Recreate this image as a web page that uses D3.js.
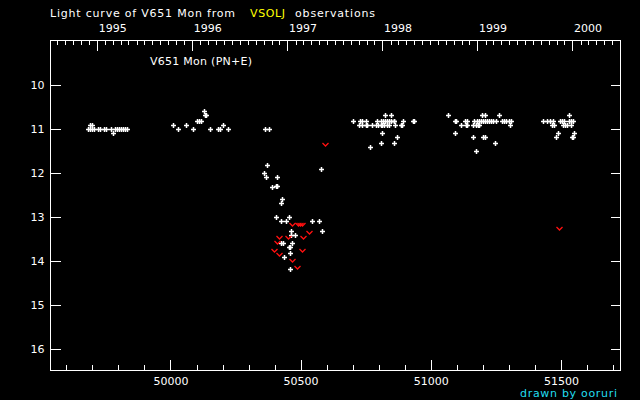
<!DOCTYPE html>
<html><head><meta charset="utf-8">
<script src="https://cdn.jsdelivr.net/npm/d3@7"></script>
<style>html,body{margin:0;padding:0;background:#000;}svg{display:block;}</style>
</head><body>
<svg id="c" width="640" height="400"></svg>
<script>
// ---- data (JD - 2400000, visual magnitude) ----
const obsJD = [
 49684,49692,49700,49707,49722,49730,49745,49753,49772,49788,49795,49803,49811,49818,49826,49834,49692,49700,49780,
 50011,50030,50061,50088,50103,50111,50119,50130,50133,50137,50153,50184,50190,50203,50222,
 50364,50380,50372,50361,50368,50411,50391,50405,50410,50430,50426,50407,50426,50445,50457,50464,50464,50480,50426,50432,50457,50461,50467,50461,50438,50461,50545,50572,50584,50580,
 50703,50730,50737,50753,50793,50810,50818,50826,50833,50841,50849,50857,50860,50895,50930,50937,
 50726,50734,50750,50754,50776,50791,50799,50807,50814,50822,50830,50841,50863,50884,50891,
 50826,50849,50814,50872,50810,50857,50768,
 51068,51093,51097,51095,51130,51141,51118,51135,51139,51164,51172,51180,51187,
 51168,51176,51184,51192,51200,51208,51216,51224,51232,51240,51249,
 51195,51207,51264,51272,51280,51288,51302,51308,51303,51164,51199,51210,51245,51172,
 51433,51445,51460,51468,51464,51472,51495,51503,51510,51530,51530,51537,51545,51507,51514,51522,51537,51487,51549,51480,51543,51547
];
const obsMag = [
 11.02,11.02,11.02,11.02,11.02,11.02,11.02,11.02,11.02,11.02,11.02,11.02,11.02,11.02,11.02,11.02,10.91,10.91,11.11,
 10.91,11.02,10.91,11.02,10.82,10.82,10.82,10.61,10.70,10.70,11.02,11.02,11.02,10.91,11.02,
 11.02,11.02,11.82,12.02,12.11,12.11,12.32,12.30,12.30,12.61,12.70,13.02,13.11,13.11,13.02,13.32,13.41,13.41,13.61,13.61,13.70,13.70,13.61,13.82,13.91,14.20,13.11,13.11,13.32,11.91,
 10.82,10.82,10.82,10.82,10.82,10.82,10.82,10.82,10.82,10.82,10.82,10.82,10.82,10.82,10.82,10.82,
 10.91,10.91,10.91,10.91,10.91,10.91,10.91,10.91,10.91,10.91,10.91,10.91,10.91,10.91,10.91,
 10.70,10.70,11.11,11.20,11.32,11.32,11.41,
 10.70,10.82,10.82,11.11,10.82,10.82,10.91,10.91,10.91,10.91,10.91,10.91,10.91,
 10.82,10.82,10.82,10.82,10.82,10.82,10.82,10.82,10.82,10.82,10.82,
 10.70,10.70,10.70,10.82,10.82,10.82,10.82,10.82,10.91,11.20,11.20,11.20,11.32,11.52,
 10.82,10.82,10.82,10.82,10.91,10.91,10.82,10.82,10.82,10.70,10.82,10.82,10.82,10.91,10.91,10.91,10.91,11.11,11.11,11.20,11.20,11.20
];
// fainter-than (upper limit) estimates
const limJD  = [50595,50468,50489,50497,50504,50534,50418,50452,50511,50411,50399,50507,50418,50468,50485,51491];
const limMag = [11.35,13.16,13.16,13.16,13.16,13.36,13.46,13.46,13.46,13.57,13.77,13.77,13.86,13.98,14.15,13.27];

const jdTicksMajor = [50000,50500,51000,51500];
const jdTicksMinor = [49600,49700,49800,49900,50100,50200,50300,50400,50600,50700,50800,50900,51100,51200,51300,51400,51600,51700];
const magTicks = [10,11,12,13,14,15,16];
const years = [1995,1996,1997,1998,1999,2000];

const titleText = "Light curve of V651 Mon from";
const sourceText = "VSOLJ";
const titleEnd = "observations";
const starLabel = "V651 Mon (PN+E)";
const credit = "drawn by ooruri";

// ---- drawing ----
const svg = d3.select("#c");
const W = 640, H = 400;
const L = 50.5, R = 620.5, T = 40.5, B = 370.5;
const x = d3.scaleLinear().domain([49539, 51729]).range([L, R]);
const y = d3.scaleLinear().domain([9, 16.5]).range([T, B]);
const font = "DejaVu Sans";
const toJD = d => d.getTime() / 86400000 + 2440587.5 - 2400000;

svg.append("rect").attr("width", W).attr("height", H).attr("fill", "#000");

// frame
svg.append("rect").attr("x", L).attr("y", T).attr("width", R - L).attr("height", B - T)
  .attr("fill", "none").attr("stroke", "#fff").attr("stroke-width", 1);

const g = svg.append("g").attr("stroke", "#fff").attr("stroke-width", 1).attr("shape-rendering", "crispEdges");

// bottom axis (JD)
const bottomAxis = d3.axisBottom(x).tickValues(jdTicksMajor).tickSize(0).tickFormat(d3.format("d"));
jdTicksMajor.forEach(v => g.append("line").attr("x1", Math.round(x(v)) + 0.5).attr("x2", Math.round(x(v)) + 0.5).attr("y1", B).attr("y2", B - 11));
jdTicksMinor.forEach(v => g.append("line").attr("x1", Math.round(x(v)) + 0.5).attr("x2", Math.round(x(v)) + 0.5).attr("y1", B).attr("y2", B - 6));
const ba = svg.append("g").attr("transform", `translate(0,${B})`).call(bottomAxis);
ba.select(".domain").remove();
ba.selectAll("text").attr("fill", "#fff").attr("font-family", font).attr("font-size", 11)
  .attr("dy", null).attr("y", 14.5);

// top axis (years and months)
const months = d3.timeMonth.range(new Date(Date.UTC(1994, 6, 1)), new Date(Date.UTC(2000, 7, 1)))
  .map(d => new Date(Date.UTC(d.getFullYear(), d.getMonth(), 1)));
months.forEach(d => {
  const jd = toJD(d);
  if (jd <= 49539 || jd >= 51729) return;
  const major = d.getUTCMonth() === 0;
  const px = Math.round(x(jd)) + 0.5;
  g.append("line").attr("x1", px).attr("x2", px).attr("y1", T).attr("y2", T + (major ? 10 : 4));
});
years.forEach(yr => {
  const jd = toJD(new Date(Date.UTC(yr, 0, 1)));
  svg.append("text").attr("x", x(jd) + 1.5).attr("y", 32).attr("fill", "#fff")
    .attr("font-family", font).attr("font-size", 11).text(yr);
});

// y axes
magTicks.forEach(m => {
  const py = Math.round(y(m)) + 0.5;
  g.append("line").attr("x1", L).attr("x2", L + 10).attr("y1", py).attr("y2", py);
  g.append("line").attr("x1", R).attr("x2", R - 10).attr("y1", py).attr("y2", py);
});
const la = svg.append("g").attr("transform", `translate(${L},0)`)
  .call(d3.axisLeft(y).tickValues(magTicks).tickSize(0).tickPadding(6).tickFormat(d3.format("d")));
la.select(".domain").remove();
la.selectAll("text").attr("fill", "#fff").attr("font-family", font).attr("font-size", 11);

// observations
const obs = obsJD.map((d, i) => ({jd: d, mag: obsMag[i]}));
svg.append("g").selectAll("path").data(obs).join("path")
  .attr("transform", d => `translate(${Math.round(x(d.jd)) + 0.5},${Math.round(y(d.mag)) + 0.5})`)
  .attr("d", "M-2.5,0H2.5M0,-2.5V2.5").attr("stroke", "#fff").attr("stroke-width", 1.5).attr("fill", "none");

const lim = limJD.map((d, i) => ({jd: d, mag: limMag[i]}));
svg.append("g").selectAll("path").data(lim).join("path")
  .attr("transform", d => `translate(${Math.round(x(d.jd)) + 0.5},${Math.round(y(d.mag)) + 0.5})`)
  .attr("d", "M-3,-1.5L0,1.5L3,-1.5").attr("stroke", "#ff1010").attr("stroke-width", 1.3).attr("fill", "none");

// texts
svg.append("text").attr("x", 50).attr("y", 17).attr("fill", "#fff").attr("font-family", font).attr("font-size", 11)
  .attr("textLength", 185).attr("lengthAdjust", "spacing").text(titleText);
svg.append("text").attr("x", 250).attr("y", 17).attr("fill", "#ffff00").attr("font-family", font).attr("font-size", 11)
  .attr("textLength", 35).attr("lengthAdjust", "spacing").text(sourceText);
svg.append("text").attr("x", 295).attr("y", 17).attr("fill", "#fff").attr("font-family", font).attr("font-size", 11)
  .attr("textLength", 80).attr("lengthAdjust", "spacing").text(titleEnd);
svg.append("text").attr("x", 150).attr("y", 65).attr("fill", "#fff").attr("font-family", font).attr("font-size", 11)
  .attr("textLength", 102).attr("lengthAdjust", "spacing").text(starLabel);
svg.append("text").attr("x", 520).attr("y", 397).attr("fill", "#22ddf0").attr("font-family", font).attr("font-size", 11)
  .attr("textLength", 97).attr("lengthAdjust", "spacing").text(credit);
</script>
</body></html>
